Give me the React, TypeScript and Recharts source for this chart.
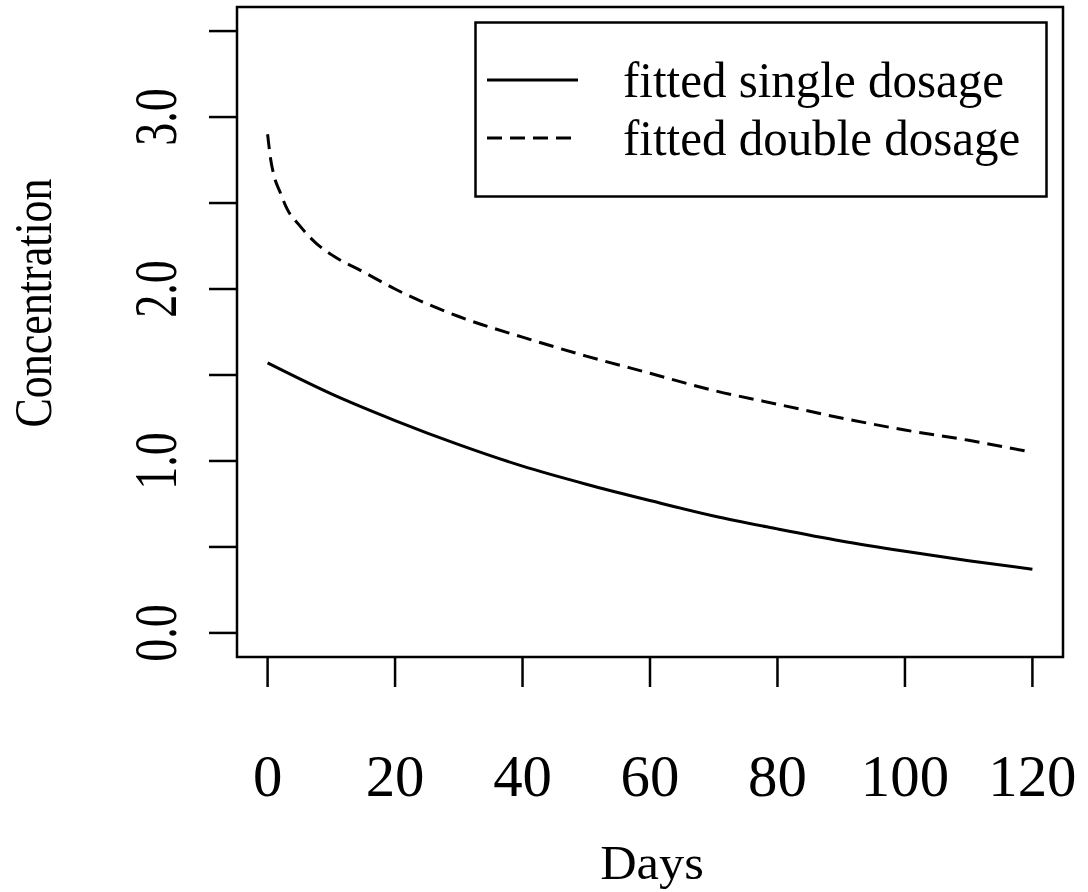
import React from "react"
import { LineChart, Line, XAxis, YAxis, ReferenceArea, Legend, Label } from "recharts"

// fitted concentration curves, one point list per dosage
const singleDays = [0, 10, 20, 30, 40, 50, 60, 70, 80, 90, 100, 110, 120]
const singleConc = [1.57, 1.39, 1.235, 1.095, 0.97, 0.865, 0.77, 0.68, 0.605, 0.535, 0.475, 0.42, 0.37]
const doubleDays = [0, 0.5, 1, 2, 3, 5, 7.5, 10, 15, 20, 30, 40, 50, 60, 70, 80, 90, 100, 110, 120]
const doubleConc = [2.9, 2.75, 2.66, 2.56, 2.47, 2.37, 2.27, 2.2, 2.1, 2.0, 1.84, 1.72, 1.61, 1.51, 1.41, 1.33, 1.25, 1.18, 1.12, 1.05]

const xTicks = [0, 20, 40, 60, 80, 100, 120]
const yTicks = [0, 0.5, 1, 1.5, 2, 2.5, 3, 3.5]
const yLabelled = [0, 1, 2, 3]

const seriesNames = ["fitted single dosage", "fitted double dosage"]

const singleData = singleDays.map((d, i) => ({ day: d, conc: singleConc[i] }))
const doubleData = doubleDays.map((d, i) => ({ day: d, conc: doubleConc[i] }))

const FONT = "'Liberation Serif', 'Times New Roman', serif"

const XTick = (props: any) => {
  const { x, y, payload } = props
  return (
    <text transform={`translate(${x},${y + 107}) scale(0.98,1)`} textAnchor="middle" fontSize={60} fontFamily={FONT} fill="#000">
      {payload.value}
    </text>
  )
}

const YTick = (props: any) => {
  const { x, y, payload } = props
  if (!yLabelled.includes(payload.value)) return <g />
  return (
    <text transform={`translate(${x - 31},${y}) scale(1.35,1) rotate(-90)`} textAnchor="middle" fontSize={46} fontFamily={FONT} fill="#000">
      {payload.value.toFixed(1)}
    </text>
  )
}

const DaysTitle = () => (
  <text transform="translate(652,879) scale(1.05,1)" textAnchor="middle" fontSize={48} fontFamily={FONT} fill="#000">
    Days
  </text>
)

const ConcTitle = () => (
  <text transform="translate(51,303) scale(1.2,1) rotate(-90)" textAnchor="middle" fontSize={44} fontFamily={FONT} fill="#000">
    Concentration
  </text>
)

const LegendBox = () => (
  <svg width={574} height={177} style={{ display: "block" }}>
    <rect x={1.5} y={1.5} width={571} height={174} fill="#fff" stroke="#000" strokeWidth={2.5} />
    {seriesNames.map((name, i) => (
      <g key={name}>
        <line x1={13} x2={104} y1={59 + i * 58} y2={59 + i * 58} stroke="#000" strokeWidth={3} strokeDasharray={i === 1 ? "15 8" : undefined} />
        <text transform={`translate(149,${59 + i * 58 + 17}) scale(0.98,1)`} fontSize={50} fontFamily={FONT} fill="#000">
          {name}
        </text>
      </g>
    ))}
  </svg>
)

export default function App() {
  return (
    <div style={{ position: "absolute", left: 0, top: 0, background: "#fff" }}>
      <LineChart width={1088} height={892} margin={{ top: 7, right: 25, bottom: 0, left: 0 }}>
        <XAxis
          dataKey="day"
          type="number"
          domain={[-4.8, 124.8]}
          ticks={xTicks}
          height={235}
          axisLine={false}
          tickSize={30}
          tickLine={{ stroke: "#000", strokeWidth: 2.5 }}
          tick={<XTick />}
          interval={0}
          allowDataOverflow
        >
          <Label content={<DaysTitle />} />
        </XAxis>
        <YAxis
          type="number"
          domain={[-0.14, 3.64]}
          ticks={yTicks}
          width={237}
          axisLine={false}
          tickSize={28}
          tickLine={{ stroke: "#000", strokeWidth: 2.5 }}
          tick={<YTick />}
          interval={0}
          allowDataOverflow
        >
          <Label content={<ConcTitle />} />
        </YAxis>
        <ReferenceArea x1={-4.8} x2={124.8} y1={-0.14} y2={3.64} fill="none" stroke="#000" strokeWidth={2.5} ifOverflow="visible" />
        <Line data={singleData} dataKey="conc" name={seriesNames[0]} type="monotone" stroke="#000" strokeWidth={3} dot={false} isAnimationActive={false} />
        <Line data={doubleData} dataKey="conc" name={seriesNames[1]} type="monotone" stroke="#000" strokeWidth={3} strokeDasharray="15 8" dot={false} isAnimationActive={false} />
        <Legend
          layout="horizontal"
          verticalAlign="middle"
          align="center"
          content={<LegendBox />}
          wrapperStyle={{ position: "absolute", left: 474, top: 21, width: 574, height: 177 }}
        />
      </LineChart>
    </div>
  )
}
